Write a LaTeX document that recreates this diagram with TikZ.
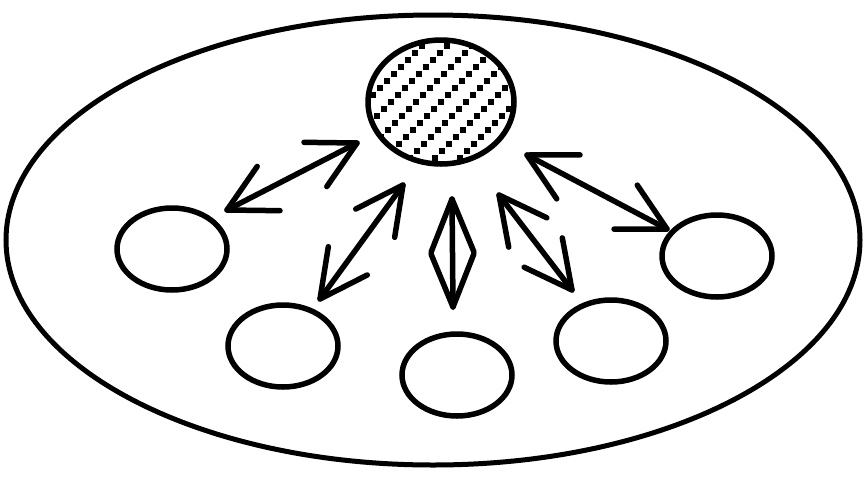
\documentclass[tikz,border=0pt]{standalone}
\usetikzlibrary{calc,shapes.geometric}
\tikzset{
  blob/.style={draw, ellipse, inner sep=0pt, minimum width=110pt, minimum height=82pt, line width=5.5pt},
  conn/.style={line width=5.5pt, line cap=round, line join=round},
}
\newcommand\dblarr[4]{%
  \draw[conn] (#1) -- (#2);
  \draw[conn] ($(#1)!#3!#4:(#2)$) -- (#1) -- ($(#1)!#3!-#4:(#2)$);
  \draw[conn] ($(#2)!#3!#4:(#1)$) -- (#2) -- ($(#2)!#3!-#4:(#1)$);
}
\begin{document}
\begin{tikzpicture}[x=1pt,y=-1pt]
\useasboundingbox (0,0) rectangle (865,491);
\node[draw, ellipse, inner sep=0pt, minimum width=854pt, minimum height=450pt, line width=5pt] (outer) at (433,240) {};
% hub
\node[ellipse, inner sep=0pt, minimum width=146pt, minimum height=124pt] (hub) at (441,102) {};
\begin{scope}
  \clip (hub.center) ellipse [x radius=73pt, y radius=62pt];
  \foreach \k in {-6,...,6}{
    \foreach \j in {-13,...,13}{
      \fill ($(hub.center)+(25*\k+7*\j-3,-7*\j-3)$) rectangle +(6,6);
    }
  }
\end{scope}
\draw[line width=5.5pt] (hub.center) ellipse [x radius=73pt, y radius=62pt];
% small ellipses
\node[blob] (e1) at (172,249) {};
\node[blob] (e2) at (283,346) {};
\node[blob] (e3) at (457,375) {};
\node[blob] (e4) at (611,341) {};
\node[blob] (e5) at (717,256) {};
% arrow tips
\coordinate (a1s) at (357,143); \coordinate (a1e) at (227,210);
\coordinate (a2s) at (403,185); \coordinate (a2e) at (320,299);
\coordinate (a3s) at (452,199); \coordinate (a3e) at (453,307);
\coordinate (a4s) at (499,195); \coordinate (a4e) at (572,290);
\coordinate (a5s) at (527,155); \coordinate (a5e) at (667,229);
\dblarr{a1s}{a1e}{53pt}{28}
\dblarr{a2s}{a2e}{53pt}{27}
\dblarr{a3s}{a3e}{57pt}{22}
\dblarr{a4s}{a4e}{53pt}{27}
\dblarr{a5s}{a5e}{53pt}{28}
\end{tikzpicture}
\end{document}
